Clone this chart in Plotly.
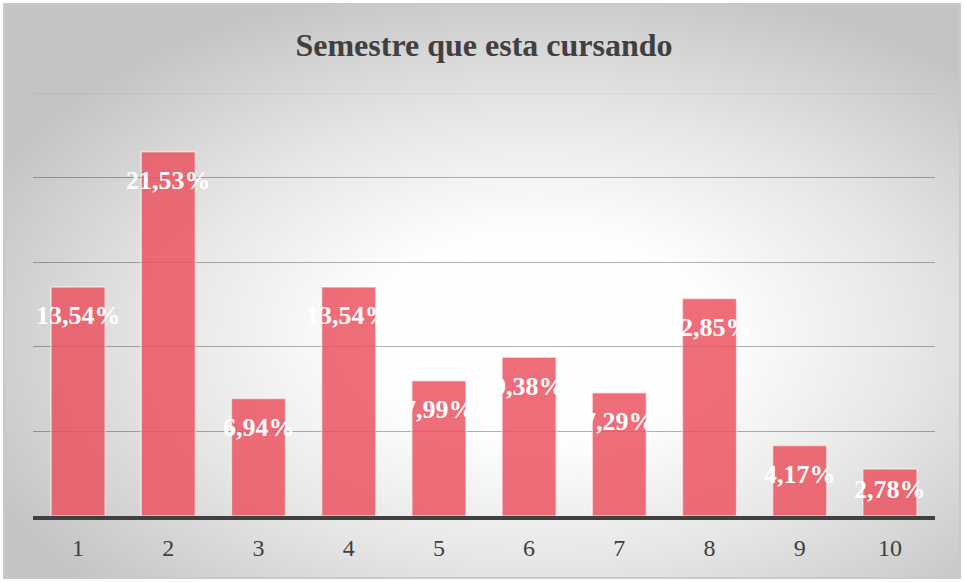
import plotly.graph_objects as go
import base64

categories = ["1", "2", "3", "4", "5", "6", "7", "8", "9", "10"]
values = [13.54, 21.53, 6.94, 13.54, 7.99, 9.38, 7.29, 12.85, 4.17, 2.78]
labels = [f"{v:.2f}".replace(".", ",") + "%" for v in values]
title = "Semestre que esta cursando"

W, H = 964, 582
ml, mr, mt, mb = 33, 29, 93, 66
pw, ph = W - ml - mr, H - mt - mb
ymax = 25

svg = f'''<svg xmlns="http://www.w3.org/2000/svg" width="{W}" height="{H}" viewBox="0 0 {W} {H}" preserveAspectRatio="none">
<defs><radialGradient id="g" cx="56%" cy="58%" r="64%">
<stop offset="0" stop-color="#ffffff"/>
<stop offset="0.3" stop-color="#fdfdfd"/>
<stop offset="0.62" stop-color="#e6e6e6"/>
<stop offset="1" stop-color="#c4c4c4"/>
</radialGradient></defs>
<rect x="0" y="0" width="{W}" height="{H}" fill="#ffffff"/>
<rect x="4" y="4" width="{W-8}" height="{H-8}" fill="url(#g)" stroke="#c9c9c9" stroke-width="2"/>
</svg>'''
src = "data:image/svg+xml;base64," + base64.b64encode(svg.encode()).decode()

fig = go.Figure()
fig.add_trace(go.Bar(
    x=categories, y=values, width=0.6,
    marker=dict(color="rgba(234,82,94,0.84)", line=dict(color="rgba(255,255,255,0.55)", width=1.5)),
    hoverinfo="skip", showlegend=False,
))

pxper = ph / ymax
for i, (v, t) in enumerate(zip(values, labels)):
    hpx = v * pxper
    shift = min(29, hpx - 26)
    fig.add_annotation(x=i, y=v, xref="x", yref="y", text=f"<b>{t}</b>", showarrow=False,
                       yshift=-shift, yanchor="middle", xanchor="center",
                       font=dict(family="Liberation Serif", size=26, color="white"))

fig.add_shape(type="line", xref="paper", yref="y", x0=0, x1=1, y0=ymax, y1=ymax,
              line=dict(color="rgba(0,0,0,0.07)", width=1.5), layer="below")

fig.add_layout_image(dict(source=src, xref="paper", yref="paper",
                          x=-ml / pw, y=1 + mt / ph, sizex=W / pw, sizey=H / ph,
                          xanchor="left", yanchor="top", sizing="stretch", layer="below"))

fig.update_layout(
    width=W, height=H,
    margin=dict(l=ml, r=mr, t=mt, b=mb),
    paper_bgcolor="rgba(0,0,0,0)", plot_bgcolor="rgba(0,0,0,0)",
    title=dict(text=f"<b>{title}</b>", x=0.5, xref="paper", y=1 - 45 / H, yanchor="middle",
               font=dict(family="Liberation Serif", size=32, color="#404040")),
    bargap=0.4,
)
fig.update_xaxes(type="category", showline=True, linecolor="#404040", linewidth=4,
                 ticks="", ticklabelstandoff=7,
                 tickfont=dict(family="Liberation Serif", size=24, color="#404040"),
                 showgrid=False, range=[-0.5, 9.5])
fig.update_yaxes(range=[0, ymax], tickvals=[5, 10, 15, 20], showticklabels=False,
                 showgrid=True, gridcolor="rgba(0,0,0,0.3)", gridwidth=1.3,
                 zeroline=False, showline=False)

fig.write_html("out.html", config={"displayModeBar": False},
               post_script="document.body.style.margin='0';document.body.style.overflow='hidden';")
